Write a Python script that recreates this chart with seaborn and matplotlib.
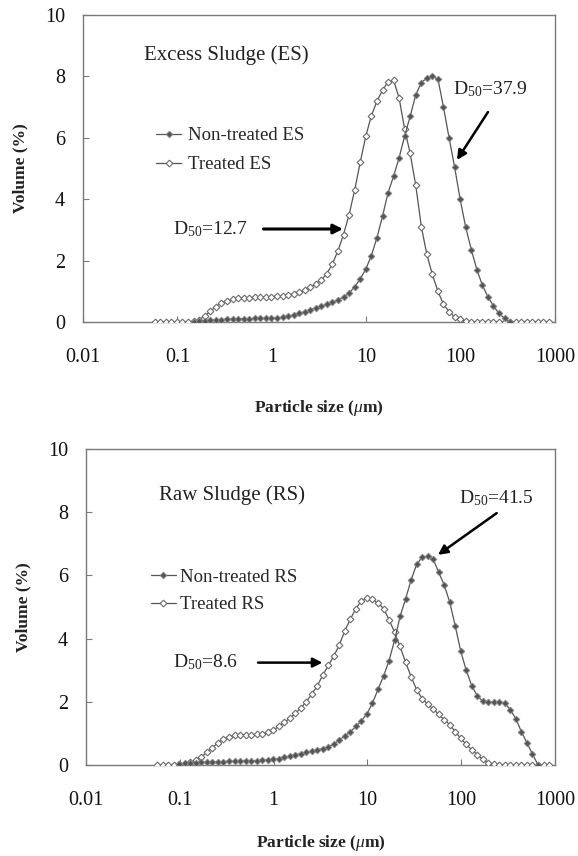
import numpy as np
import pandas as pd
import matplotlib
matplotlib.use("Agg")
import matplotlib.pyplot as plt
import seaborn as sns

# ---------------- data ----------------
size_um = [0.0575, 0.0659, 0.0755, 0.0864, 0.0989, 0.113, 0.130, 0.149, 0.170, 0.195,
           0.223, 0.255, 0.292, 0.335, 0.384, 0.439, 0.502, 0.575, 0.659, 0.755,
           0.864, 0.989, 1.13, 1.30, 1.49, 1.70, 1.95, 2.23, 2.55, 2.92,
           3.35, 3.84, 4.39, 5.02, 5.75, 6.59, 7.55, 8.64, 9.89, 11.3,
           13.0, 14.9, 17.0, 19.5, 22.3, 25.5, 29.2, 33.5, 38.4, 43.9,
           50.2, 57.5, 65.9, 75.5, 86.4, 98.9, 113, 130, 149, 170,
           195, 223, 255, 292, 335, 384, 439, 502, 575, 659,
           755, 864]

nan = np.nan
es_nontreated = [nan, nan, nan, nan, nan, nan, nan, 0.0, 0.02, 0.04,
                 0.06, 0.07, 0.08, 0.09, 0.10, 0.10, 0.11, 0.11, 0.12, 0.12,
                 0.13, 0.13, 0.14, 0.16, 0.19, 0.23, 0.28, 0.34, 0.40, 0.46,
                 0.52, 0.58, 0.65, 0.72, 0.81, 0.94, 1.15, 1.40, 1.72, 2.15,
                 2.75, 3.45, 4.20, 4.75, 5.35, 6.05, 6.70, 7.40, 7.80, 7.95,
                 8.00, 7.92, 7.00, 6.00, 5.05, 4.00, 3.10, 2.35, 1.70, 1.20,
                 0.82, 0.52, 0.28, 0.12, 0.0, nan, nan, nan, nan, nan,
                 nan, nan]
es_treated = [0, 0, 0, 0, 0, 0, 0, 0.02, 0.08, 0.20,
              0.35, 0.50, 0.62, 0.70, 0.75, 0.77, 0.78, 0.79, 0.80, 0.80,
              0.81, 0.82, 0.84, 0.86, 0.88, 0.92, 0.97, 1.05, 1.13, 1.23,
              1.37, 1.58, 1.90, 2.32, 2.85, 3.50, 4.30, 5.20, 6.05, 6.70,
              7.20, 7.55, 7.82, 7.88, 7.30, 6.30, 5.50, 4.45, 3.10, 2.20,
              1.55, 1.00, 0.58, 0.34, 0.17, 0.09, 0.02, 0, 0, 0,
              0, 0, 0, 0, 0, 0, 0, 0, 0, 0,
              0, 0]

rs_nontreated = [nan, nan, nan, nan, 0.03, 0.05, 0.06, 0.07, 0.08, 0.09,
                 0.10, 0.10, 0.11, 0.12, 0.12, 0.13, 0.13, 0.14, 0.14, 0.15,
                 0.16, 0.18, 0.20, 0.24, 0.28, 0.32, 0.36, 0.40, 0.44, 0.48,
                 0.52, 0.58, 0.66, 0.79, 0.92, 1.05, 1.22, 1.40, 1.62, 1.95,
                 2.40, 2.82, 3.30, 3.95, 4.70, 5.25, 5.85, 6.35, 6.58, 6.60,
                 6.52, 6.10, 5.70, 5.15, 4.40, 3.60, 3.00, 2.50, 2.18, 2.02,
                 1.98, 2.00, 2.00, 1.95, 1.75, 1.45, 1.05, 0.70, 0.35, 0.0,
                 nan, nan]
rs_treated = [0, 0, 0, 0, 0.02, 0.04, 0.08, 0.15, 0.26, 0.40,
              0.55, 0.70, 0.82, 0.90, 0.94, 0.95, 0.96, 0.96, 0.97, 0.99,
              1.03, 1.10, 1.22, 1.35, 1.48, 1.63, 1.80, 2.00, 2.24, 2.50,
              2.85, 3.15, 3.45, 3.80, 4.25, 4.62, 4.95, 5.20, 5.28, 5.25,
              5.12, 4.95, 4.60, 4.20, 3.75, 3.25, 2.80, 2.38, 2.10, 1.92,
              1.78, 1.60, 1.43, 1.28, 1.05, 0.85, 0.65, 0.48, 0.32, 0.18,
              0.07, 0.02, 0, 0, 0, 0, 0, 0, 0, 0,
              0, 0]

x_ticks = [0.01, 0.1, 1, 10, 100, 1000]
x_tick_labels = ["0.01", "0.1", "1", "10", "100", "1000"]
y_ticks = [0, 2, 4, 6, 8, 10]

# ---------------- style ----------------
sns.set_style("ticks")
plt.rcParams["font.family"] = ["Liberation Serif", "DejaVu Serif"]
plt.rcParams["mathtext.fontset"] = "custom"
plt.rcParams["mathtext.rm"] = "Liberation Serif"
plt.rcParams["mathtext.it"] = "Liberation Serif:italic"
plt.rcParams["mathtext.bf"] = "Liberation Serif:bold"

LINE = "#555555"
SPINE = "#7a7a7a"

fig = plt.figure(figsize=(5.78, 8.56), dpi=100)
ax_top = fig.add_axes([0.1436, 0.6238, 0.8166, 0.3586])
ax_bot = fig.add_axes([0.1488, 0.1063, 0.8114, 0.3692])


def draw_panel(ax, nontreated, treated, lab_nt, lab_t, xlabelpad):
    df = pd.DataFrame({"size": size_um, "nt": nontreated, "t": treated})
    sns.lineplot(data=df, x="size", y="t", ax=ax, color=LINE, lw=0.9,
                 marker="D", markersize=3.4, markerfacecolor="white",
                 markeredgecolor="#6a6a6a", markeredgewidth=0.8,
                 label=lab_t, zorder=3)
    sns.lineplot(data=df, x="size", y="nt", ax=ax, color=LINE, lw=0.9,
                 marker="D", markersize=3.4, markerfacecolor="#555555",
                 markeredgecolor="#888888", markeredgewidth=0.6,
                 label=lab_nt, zorder=4)
    ax.set_xscale("log")
    ax.set_xlim(0.01, 1000)
    ax.set_ylim(0, 10)
    ax.set_xticks(x_ticks)
    ax.set_xticklabels(x_tick_labels)
    ax.minorticks_off()
    ax.set_yticks(y_ticks)
    ax.tick_params(axis="both", direction="in", length=4, width=0.8,
                   color=SPINE, labelsize=14.5, labelcolor="#111111")
    ax.tick_params(axis="x", pad=19)
    ax.tick_params(axis="y", pad=13)
    for sp in ax.spines.values():
        sp.set_visible(True)
        sp.set_color(SPINE)
        sp.set_linewidth(1.0)
    ax.set_xlabel("Particle size ($\\mu$m)", fontsize=12.5, fontweight="bold",
                  labelpad=xlabelpad, color="#222222")
    ax.set_ylabel("Volume (%)", fontsize=12.5, fontweight="bold",
                  labelpad=12, color="#222222")
    handles, labels = ax.get_legend_handles_labels()
    order = [labels.index(lab_nt), labels.index(lab_t)]
    return [handles[i] for i in order], [labels[i] for i in order]


h, l = draw_panel(ax_top, es_nontreated, es_treated, "Non-treated ES", "Treated ES", 22)
ax_top.legend(h, l, loc="upper left", bbox_to_anchor=(0.155, 0.635), frameon=False,
              fontsize=13.5, handlelength=1.35, handletextpad=0.35,
              labelspacing=0.63, borderpad=0, borderaxespad=0)
ax_top.text(0.0443, 8.7, "Excess Sludge (ES)", fontsize=15, va="center", ha="left",
            color="#222222")
ax_top.text(0.0898, 3.03, "D$_{50}$=12.7", fontsize=14, va="center", ha="left",
            color="#222222")
ax_top.annotate("", xy=(5.68, 3.03), xytext=(0.817, 3.03),
                arrowprops=dict(arrowstyle="-|>", lw=2.2, color="black",
                                mutation_scale=14, shrinkA=0, shrinkB=0))
ax_top.text(83, 7.59, "D$_{50}$=37.9", fontsize=14, va="center", ha="left",
            color="#222222")
ax_top.annotate("", xy=(91.5, 5.28), xytext=(195, 6.84),
                arrowprops=dict(arrowstyle="-|>", lw=1.8, color="black",
                                mutation_scale=14, shrinkA=0, shrinkB=0))

h, l = draw_panel(ax_bot, rs_nontreated, rs_treated, "Non-treated RS", "Treated RS", 16)
ax_bot.legend(h, l, loc="upper left", bbox_to_anchor=(0.138, 0.622), frameon=False,
              fontsize=13.5, handlelength=1.35, handletextpad=0.2,
              labelspacing=0.56, borderpad=0, borderaxespad=0)
ax_bot.text(0.0593, 8.54, "Raw Sludge (RS)", fontsize=15, va="center", ha="left",
            color="#222222")
ax_bot.text(0.0846, 3.26, "D$_{50}$=8.6", fontsize=14, va="center", ha="left",
            color="#222222")
ax_bot.annotate("", xy=(3.32, 3.24), xytext=(0.682, 3.24),
                arrowprops=dict(arrowstyle="-|>", lw=1.8, color="black",
                                mutation_scale=14, shrinkA=0, shrinkB=0))
ax_bot.text(94.8, 8.45, "D$_{50}$=41.5", fontsize=14, va="center", ha="left",
            color="#222222")
ax_bot.annotate("", xy=(56.6, 6.65), xytext=(239, 7.97),
                arrowprops=dict(arrowstyle="-|>", lw=1.8, color="black",
                                mutation_scale=14, shrinkA=0, shrinkB=0))

fig.savefig("out.png", dpi=100)
